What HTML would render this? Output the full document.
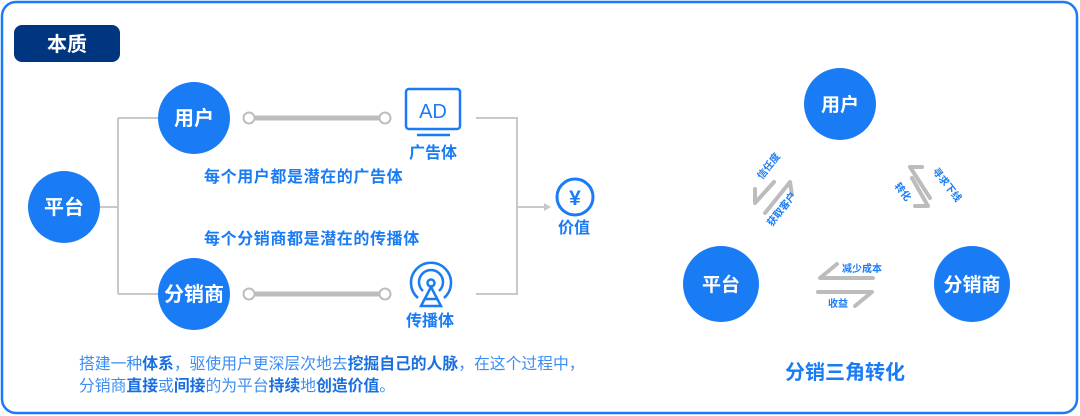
<!DOCTYPE html>
<html><head><meta charset="utf-8"><style>
body{margin:0;width:1080px;height:416px;background:#fff;overflow:hidden;font-family:"Liberation Sans","Noto Sans CJK SC",sans-serif}
.t{position:absolute;white-space:nowrap}
</style></head><body>
<svg width="1080" height="416" style="position:absolute;left:0;top:0" font-family="Liberation Sans, Noto Sans CJK SC, sans-serif">
<rect x="2" y="2" width="1075" height="411" rx="14" fill="none" stroke="#1a7cf5" stroke-width="2.5"/>
<rect x="14" y="25" width="106" height="37" rx="8" fill="#003580"/>
<text x="67" y="51" fill="#fff" font-size="20" font-weight="bold" text-anchor="middle">本质</text>
<g stroke="#c8c8c8" stroke-width="2" fill="none">
<path d="M100 207H118M118 118V294M118 118H160M118 294H160"/>
<path d="M476 118H517V294H476M517 207H546"/>
</g>
<path d="M544 203L551 207L544 211Z" fill="#c8c8c8"/>
<g stroke="#bdbdbd" fill="#fff">
<line x1="253" y1="118" x2="381" y2="118" stroke-width="5"/>
<circle cx="249" cy="118" r="5.5" stroke-width="2"/><circle cx="385" cy="118" r="5.5" stroke-width="2"/>
<line x1="253" y1="294" x2="381" y2="294" stroke-width="5"/>
<circle cx="249" cy="294" r="5.5" stroke-width="2"/><circle cx="385" cy="294" r="5.5" stroke-width="2"/>
</g>
<g fill="#1a7cf5">
<ellipse cx="64" cy="207" rx="36" ry="36"/>
<ellipse cx="194" cy="118" rx="36" ry="36"/>
<ellipse cx="194" cy="294" rx="36" ry="36"/>
<circle cx="840" cy="104" r="36"/>
<circle cx="721" cy="284" r="38"/>
<circle cx="972" cy="284" r="38"/>
</g>
<g fill="#fff" font-weight="bold" text-anchor="middle">
<text x="64" y="214" font-size="20">平台</text>
<text x="194" y="125" font-size="20">用户</text>
<text x="194" y="301" font-size="20">分销商</text>
<text x="840" y="111" font-size="19">用户</text>
<text x="721" y="291" font-size="19">平台</text>
<text x="972" y="291" font-size="19">分销商</text>
</g>
<rect x="406" y="89" width="54" height="40" rx="3" fill="none" stroke="#1a7cf5" stroke-width="2.5"/>
<text x="433" y="118" fill="#1a7cf5" font-size="20" text-anchor="middle">AD</text>
<line x1="417" y1="135" x2="450" y2="135" stroke="#1a7cf5" stroke-width="2.5"/>
<g fill="none" stroke="#1a7cf5" stroke-width="2.5">
<path d="M418 298A20 20 0 1 1 444 298"/>
<path d="M423 291A12 12 0 1 1 439 291"/>
<circle cx="431" cy="283" r="3.5"/>
<path d="M431 287L421 306H441Z"/><path d="M425 299H437"/>
</g>
<circle cx="575" cy="197" r="18" fill="none" stroke="#1a7cf5" stroke-width="3"/>
<text x="575" y="205" fill="#1a7cf5" font-size="21" font-weight="bold" text-anchor="middle">¥</text>
<g fill="#1a7cf5" font-weight="bold" text-anchor="middle" font-size="16">
<text x="433" y="158">广告体</text>
<text x="430" y="326">传播体</text>
<text x="574" y="233">价值</text>
</g>
<g fill="#1a7cf5" font-weight="bold" font-size="16" letter-spacing="0.6">
<text x="204" y="182">每个用户都是潜在的广告体</text>
<text x="204" y="244">每个分销商都是潜在的传播体</text>
</g>
<text x="845" y="379" fill="#1a7cf5" font-size="20" font-weight="bold" text-anchor="middle">分销三角转化</text>
<g stroke="#bcbcbc" stroke-width="4" fill="none" stroke-linecap="round" stroke-linejoin="round">
<path d="M837 264L820 278H873"/>
<path d="M818 292H872L855 306"/>
<path d="M774 182L755 203V189"/>
<path d="M765 213L790 182L792 195"/>
<path d="M922 167H910L930 198"/>
<path d="M912 178L928 206H915"/>
</g>
<g fill="#1a7cf5" font-size="10" font-weight="bold">
<text x="842" y="272">减少成本</text>
<text x="828" y="307">收益</text>
<text transform="translate(762,180) rotate(-52)">信任度</text>
<text transform="translate(772,227) rotate(-52)">获取客户</text>
<text transform="translate(894,186) rotate(52)">转化</text>
<text transform="translate(932,171) rotate(52)">寻求下线</text>
</g>
</svg>
<div class="t" style="left:79px;top:354px;font-size:15.8px;line-height:22px;color:#3d8ef2">搭建一种<b style="color:#1a6fe0">体系</b>，驱使用户更深层次地去<b style="color:#1a6fe0">挖掘自己的人脉</b>，在这个过程中，<br>分销商<b style="color:#1a6fe0">直接</b>或<b style="color:#1a6fe0">间接</b>的为平台<b style="color:#1a6fe0">持续</b>地<b style="color:#1a6fe0">创造价值</b>。</div>
</body></html>
